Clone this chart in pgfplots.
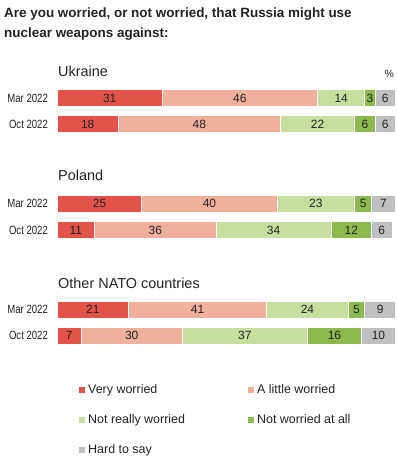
\documentclass[border=0pt]{standalone}
\usepackage{pgfplots}
\pgfplotsset{compat=1.18}
\usepackage{fontspec}
\setmainfont{Liberation Sans}
\definecolor{cVW}{HTML}{E4534A}
\definecolor{cLW}{HTML}{F1B09C}
\definecolor{cNR}{HTML}{C6DF9F}
\definecolor{cNA}{HTML}{8BBB4E}
\definecolor{cHS}{HTML}{BFBFBF}
\definecolor{txt}{HTML}{222222}
\begin{document}
\begin{tikzpicture}
\useasboundingbox (-57.3bp,-469bp) rectangle (339.7bp,0bp);
\pgfplotsset{
  base/.style={
    at={(0,0)}, anchor=origin,
    x=3.38bp, y=1bp,
    xmin=-16.95, xmax=100.5, ymin=-469, ymax=0,
    clip=false,
    axis line style={draw=none},
    xtick=\empty,
  }
}
\begin{axis}[base,
  xbar stacked, bar width=17,
  ytick={-98,-124,-203.5,-230,-309.5,-335.5},
  yticklabels={Mar 2022,Oct 2022,Mar 2022,Oct 2022,Mar 2022,Oct 2022},
  major tick length=0pt,
  yticklabel style={anchor=east, xshift=48bp, inner sep=0pt, font=\fontsize{12}{12}\selectfont, xscale=0.8, text=txt},
  legend columns=2,
  legend cell align=left,
  legend image code/.code={\fill[#1,draw=none] (0bp,-3bp) rectangle (6bp,3bp);},
  legend style={draw=none, fill=none, inner sep=0pt, at={(axis cs:6.42,-383.6)}, anchor=north west,
    font=\fontsize{12.5}{12.5}\selectfont, text=txt,
    nodes={inner sep=0pt, text height=10bp, text depth=3bp},
    row sep=17bp,
    /tikz/every odd column/.append style={column sep=3bp},
    /tikz/every even column/.append style={column sep=63bp}},
]
\addplot[fill=cVW, draw=white, line width=0.8bp] coordinates {(31,-98) (18,-124) (25,-203.5) (11,-230) (21,-309.5) (7,-335.5)};
\addlegendentry{Very worried}
\addplot[fill=cLW, draw=white, line width=0.8bp] coordinates {(46,-98) (48,-124) (40,-203.5) (36,-230) (41,-309.5) (30,-335.5)};
\addlegendentry{A little worried}
\addplot[fill=cNR, draw=white, line width=0.8bp] coordinates {(14,-98) (22,-124) (23,-203.5) (34,-230) (24,-309.5) (37,-335.5)};
\addlegendentry{Not really worried}
\addplot[fill=cNA, draw=white, line width=0.8bp] coordinates {(3,-98) (6,-124) (5,-203.5) (12,-230) (5,-309.5) (16,-335.5)};
\addlegendentry{Not worried at all}
\addplot[fill=cHS, draw=white, line width=0.8bp] coordinates {(6,-98) (6,-124) (7,-203.5) (6,-230) (9,-309.5) (10,-335.5)};
\addlegendentry{Hard to say}
\end{axis}
\begin{axis}[base, hide axis]
\addplot[draw=none, mark=none, nodes near coords, point meta=explicit symbolic,
  every node near coord/.append style={anchor=center, font=\fontsize{12}{12}\selectfont, text=txt, inner sep=0pt}]
  table[meta=label] {
x y label
15.5 -98 31
54 -98 46
84 -98 14
92.5 -98 3
97 -98 6
9 -124 18
42 -124 48
77 -124 22
91 -124 6
97 -124 6
12.5 -203.5 25
45 -203.5 40
76.5 -203.5 23
90.5 -203.5 5
96.5 -203.5 7
5.5 -230 11
29 -230 36
64 -230 34
87 -230 12
96 -230 6
10.5 -309.5 21
41.5 -309.5 41
74 -309.5 24
88.5 -309.5 5
95.5 -309.5 9
3.5 -335.5 7
22 -335.5 30
55.5 -335.5 37
82 -335.5 16
95 -335.5 10
};
\end{axis}
\begin{scope}[every node/.style={inner sep=0pt, text=txt}]
\node[anchor=base west, font=\fontsize{13.5}{13.5}\selectfont\bfseries] at (-53.3bp,-17.3bp) {Are you worried, or not worried, that Russia might use};
\node[anchor=base west, font=\fontsize{13.5}{13.5}\selectfont\bfseries] at (-53.3bp,-37.8bp) {nuclear weapons against:};
\node[anchor=base west, font=\fontsize{14.5}{14.5}\selectfont] at (0.7bp,-76.7bp) {Ukraine};
\node[anchor=base west, font=\fontsize{14.5}{14.5}\selectfont] at (0.7bp,-180.7bp) {Poland};
\node[anchor=base west, font=\fontsize{14.5}{14.5}\selectfont] at (0.7bp,-288.3bp) {Other NATO countries};
\node[anchor=base east, font=\fontsize{10.5}{10.5}\selectfont] at (336.7bp,-77bp) {\%};
\end{scope}
\end{tikzpicture}
\end{document}
